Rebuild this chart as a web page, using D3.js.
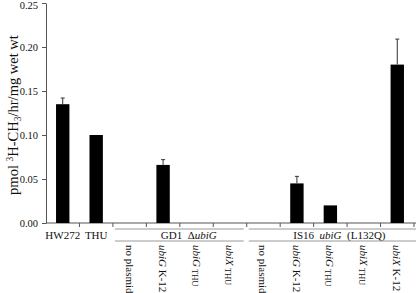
<!DOCTYPE html>
<html>
<head>
<meta charset="utf-8">
<script src="https://cdn.jsdelivr.net/npm/d3@7"></script>
<style>
  body { margin: 0; background: #fff; }
  text { font-family: "Liberation Serif", "Times New Roman", serif; fill: #111; }
</style>
</head>
<body>
<svg id="chart" width="416" height="293"></svg>
<script>
// bars, left to right
const categories = ["HW272", "THU",
  "gd-none", "gd-ubiG-K12", "gd-ubiG-THU", "gd-ubiX-THU",
  "is-none", "is-ubiG-K12", "is-ubiG-THU", "is-ubiX-THU", "is-ubiX-K12"];
const values = [0.135, 0.100, 0, 0.066, 0, 0, 0, 0.045, 0.020, 0, 0.180];
const errTop = [0.142, null, null, 0.072, null, null, null, 0.053, null, null, 0.209];
const yTicks = [0, 0.05, 0.10, 0.15, 0.20, 0.25];

// labels straight under the axis
const plainLabels = { "HW272": "HW272", "THU": "THU" };
// rotated labels: [text, style]  (i = italic, s = small subscript)
const rotLabels = {
  "gd-none": [["no plasmid", ""]],
  "gd-ubiG-K12": [["ubiG", "i"], [" K-12", ""]],
  "gd-ubiG-THU": [["ubiG", "i"], [" THU", "s"]],
  "gd-ubiX-THU": [["ubiX", "i"], [" THU", "s"]],
  "is-none": [["no plasmid", ""]],
  "is-ubiG-K12": [["ubiG", "i"], [" K-12", ""]],
  "is-ubiG-THU": [["ubiG", "i"], [" THU", "s"]],
  "is-ubiX-THU": [["ubiX", "i"], [" THU", "s"]],
  "is-ubiX-K12": [["ubiX", "i"], [" K-12", ""]]
};
// strain groups under the axis
const groups = [
  { from: "gd-none", to: "gd-ubiX-THU", parts: [["GD1\u00a0\u00a0\u0394", ""], ["ubiG", "i"]] },
  { from: "is-none", to: "is-ubiX-K12", parts: [["IS16\u00a0\u00a0", ""], ["ubiG", "i"], ["\u00a0\u00a0(L132Q)", ""]] }
];

const svg = d3.select("#chart");
const axisColor = "#555";
const fs = 11;

const x = d3.scaleBand().domain(categories).range([46, 414])
  .paddingInner(0.6).paddingOuter(0.3);
const y = d3.scaleLinear().domain([0, 0.25]).range([223, 3]);

// boundary between bands
const edge = (c) => x(c) + x.bandwidth() + (x.step() - x.bandwidth()) / 2;

// y axis
const yAxis = svg.append("g")
  .attr("transform", "translate(46,0)")
  .call(d3.axisLeft(y).tickValues(yTicks).tickFormat(d3.format(".2f")).tickSize(4).tickSizeOuter(0));
yAxis.select(".domain").attr("stroke", axisColor);
yAxis.selectAll(".tick line").attr("stroke", axisColor);
yAxis.selectAll(".tick text").attr("font-size", 10.5).attr("fill", "#111").attr("dx", -1)
  .attr("dy", (d) => d === 0.25 ? "0.55em" : "0.32em");

// x axis line and ticks between bars
svg.append("line").attr("x1", 46).attr("x2", 416).attr("y1", y(0)).attr("y2", y(0)).attr("stroke", axisColor);
svg.selectAll(".xtick").data(categories).join("line")
  .attr("class", "xtick")
  .attr("x1", (d) => edge(d)).attr("x2", (d) => edge(d))
  .attr("y1", y(0)).attr("y2", y(0) + 4)
  .attr("stroke", axisColor);

// bars
svg.selectAll(".bar").data(categories.filter((c, i) => values[i] > 0)).join("rect")
  .attr("class", "bar")
  .attr("x", (d) => x(d))
  .attr("width", x.bandwidth())
  .attr("y", (d) => y(values[categories.indexOf(d)]))
  .attr("height", (d) => y(0) - y(values[categories.indexOf(d)]))
  .attr("fill", "#000");

// error bars
const errs = categories.filter((c, i) => errTop[i] != null);
const eg = svg.selectAll(".err").data(errs).join("g").attr("class", "err")
  .attr("stroke", "#333").attr("stroke-width", 1);
eg.append("line")
  .attr("x1", (d) => x(d) + x.bandwidth() / 2).attr("x2", (d) => x(d) + x.bandwidth() / 2)
  .attr("y1", (d) => y(values[categories.indexOf(d)])).attr("y2", (d) => y(errTop[categories.indexOf(d)]));
eg.append("line")
  .attr("x1", (d) => x(d) + x.bandwidth() / 2 - 2).attr("x2", (d) => x(d) + x.bandwidth() / 2 + 2)
  .attr("y1", (d) => y(errTop[categories.indexOf(d)])).attr("y2", (d) => y(errTop[categories.indexOf(d)]));

// plain labels
svg.selectAll(".plab").data(Object.keys(plainLabels)).join("text")
  .attr("class", "plab")
  .attr("x", (d) => x(d) + x.bandwidth() / 2)
  .attr("y", 239)
  .attr("text-anchor", "middle")
  .attr("font-size", fs)
  .text((d) => plainLabels[d]);

// text made of styled pieces
function addParts(t, parts, size) {
  let shifted = false;
  parts.forEach(([s, st]) => {
    const sp = t.append("tspan")
      .attr("font-style", st === "i" ? "italic" : null)
      .attr("font-size", st === "s" ? size - 2.5 : size)
      .text(s);
    if (st === "s" && !shifted) { sp.attr("dy", 2); shifted = true; }
  });
}
Object.keys(rotLabels).forEach((c) => {
  const t = svg.append("text")
    .attr("transform", `translate(${x(c) + x.bandwidth() / 2},245) rotate(90)`)
    .attr("dominant-baseline", "central")
    .attr("font-size", fs);
  addParts(t, rotLabels[c], fs);
});

// group brackets
groups.forEach((g, gi) => {
  const x0 = edge(g.from) - x.step() + 2;
  const x1 = gi === groups.length - 1 ? 416 : edge(g.to) - 3;
  [229, 241].forEach((yy) => {
    svg.append("line").attr("x1", x0).attr("x2", x1).attr("y1", yy).attr("y2", yy)
      .attr("stroke", "#999").attr("stroke-width", 1);
  });
  const t = svg.append("text")
    .attr("x", (x0 + edge(g.to)) / 2 + 8)
    .attr("y", 238.5)
    .attr("text-anchor", "middle")
    .attr("font-size", fs);
  addParts(t, g.parts, fs);
});

// y axis title
const yt = svg.append("text")
  .attr("transform", "translate(18,115) rotate(-90)")
  .attr("text-anchor", "middle")
  .attr("font-size", 14.5);
yt.append("tspan").text("pmol ");
yt.append("tspan").attr("font-size", 9.5).attr("dy", -5).text("3");
yt.append("tspan").attr("dy", 5).text("H-CH");
yt.append("tspan").attr("font-size", 9.5).attr("dy", 3).text("3");
yt.append("tspan").attr("dy", -3).text("/hr/mg wet wt");
</script>
</body>
</html>
